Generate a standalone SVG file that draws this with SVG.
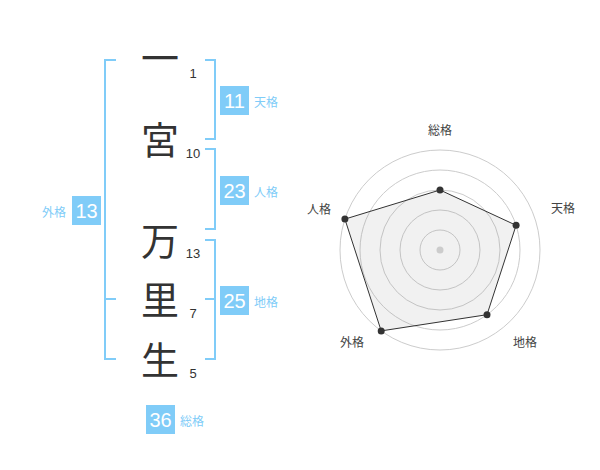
<svg xmlns="http://www.w3.org/2000/svg" width="600" height="470" viewBox="0 0 600 470">
<style>
.kanji{font-family:"Noto Sans CJK JP","Noto Sans CJK SC",sans-serif;font-size:38px;fill:#333;text-anchor:middle}
.num{font-family:"Liberation Sans",Arial,sans-serif;font-size:13px;fill:#333;text-anchor:middle}
.br{fill:none;stroke:#80CCF8;stroke-width:2}
.box{fill:#80CCF8}
.boxt{font-family:"Liberation Sans",Arial,sans-serif;font-size:20px;fill:#fff;text-anchor:middle}
.lbl{font-family:"Noto Sans CJK JP","Noto Sans CJK SC",sans-serif;font-size:12px;fill:#80CCF8}
.ring{fill:none;stroke:#cccccc;stroke-width:1}
.rl{font-family:"Noto Sans CJK JP","Noto Sans CJK SC",sans-serif;font-size:12px;fill:#444;text-anchor:middle}
.pt{fill:#333}
</style>
<rect width="600" height="470" fill="#fff"/>
<g id="chars">
<text class="kanji" x="160" y="72">一</text>
<text class="kanji" x="160" y="154">宮</text>
<text class="kanji" x="160" y="255">万</text>
<text class="kanji" x="160" y="314">里</text>
<text class="kanji" x="160" y="374">生</text>
<text class="num" x="193" y="78">1</text>
<text class="num" x="193" y="158">10</text>
<text class="num" x="193" y="258">13</text>
<text class="num" x="193" y="318">7</text>
<text class="num" x="193" y="378">5</text>
</g>
<g id="brackets">
<path class="br" d="M116,60 H105 V359 H116 M105,299 H116"/>
<path class="br" d="M205,60 H215 V139 H205"/>
<path class="br" d="M205,149 H215 V229 H205"/>
<path class="br" d="M205,240 H215 V359 H205 M205,299 H215"/>
</g>
<g id="tenkaku">
<rect class="box" x="220" y="86" width="29" height="29"/>
<text class="boxt" x="234.5" y="108">11</text>
<text class="lbl" x="254" y="107">天格</text>
</g>
<g id="jinkaku">
<rect class="box" x="220" y="176" width="29" height="29"/>
<text class="boxt" x="234.5" y="198">23</text>
<text class="lbl" x="254" y="197">人格</text>
</g>
<g id="chikaku">
<rect class="box" x="220" y="286" width="29" height="29"/>
<text class="boxt" x="234.5" y="308">25</text>
<text class="lbl" x="254" y="307">地格</text>
</g>
<g id="gaikaku">
<rect class="box" x="72" y="196" width="29" height="29"/>
<text class="boxt" x="86.5" y="218">13</text>
<text class="lbl" x="66" y="217" text-anchor="end">外格</text>
</g>
<g id="soukaku">
<rect class="box" x="146" y="405" width="29" height="29"/>
<text class="boxt" x="160.5" y="427">36</text>
<text class="lbl" x="180" y="426">総格</text>
</g>
<g id="radar">
<circle class="ring" cx="440" cy="250" r="100"/>
<circle class="ring" cx="440" cy="250" r="80"/>
<circle class="ring" cx="440" cy="250" r="60"/>
<circle class="ring" cx="440" cy="250" r="40"/>
<circle class="ring" cx="440" cy="250" r="20"/>
<polygon points="440,190 516.1,225.3 487,314.7 381.2,330.9 344.9,219.1" fill="#888" fill-opacity="0.12" stroke="#333" stroke-width="1"/>
<circle cx="440" cy="250" r="3.5" fill="#ccc"/>
<circle class="pt" cx="440" cy="190" r="3.5"/>
<circle class="pt" cx="516.1" cy="225.3" r="3.5"/>
<circle class="pt" cx="487" cy="314.7" r="3.5"/>
<circle class="pt" cx="381.2" cy="330.9" r="3.5"/>
<circle class="pt" cx="344.9" cy="219.1" r="3.5"/>
<text class="rl" x="440" y="135">総格</text>
<text class="rl" x="563" y="213">天格</text>
<text class="rl" x="525" y="347">地格</text>
<text class="rl" x="352" y="347">外格</text>
<text class="rl" x="319" y="214">人格</text>
</g>
</svg>
